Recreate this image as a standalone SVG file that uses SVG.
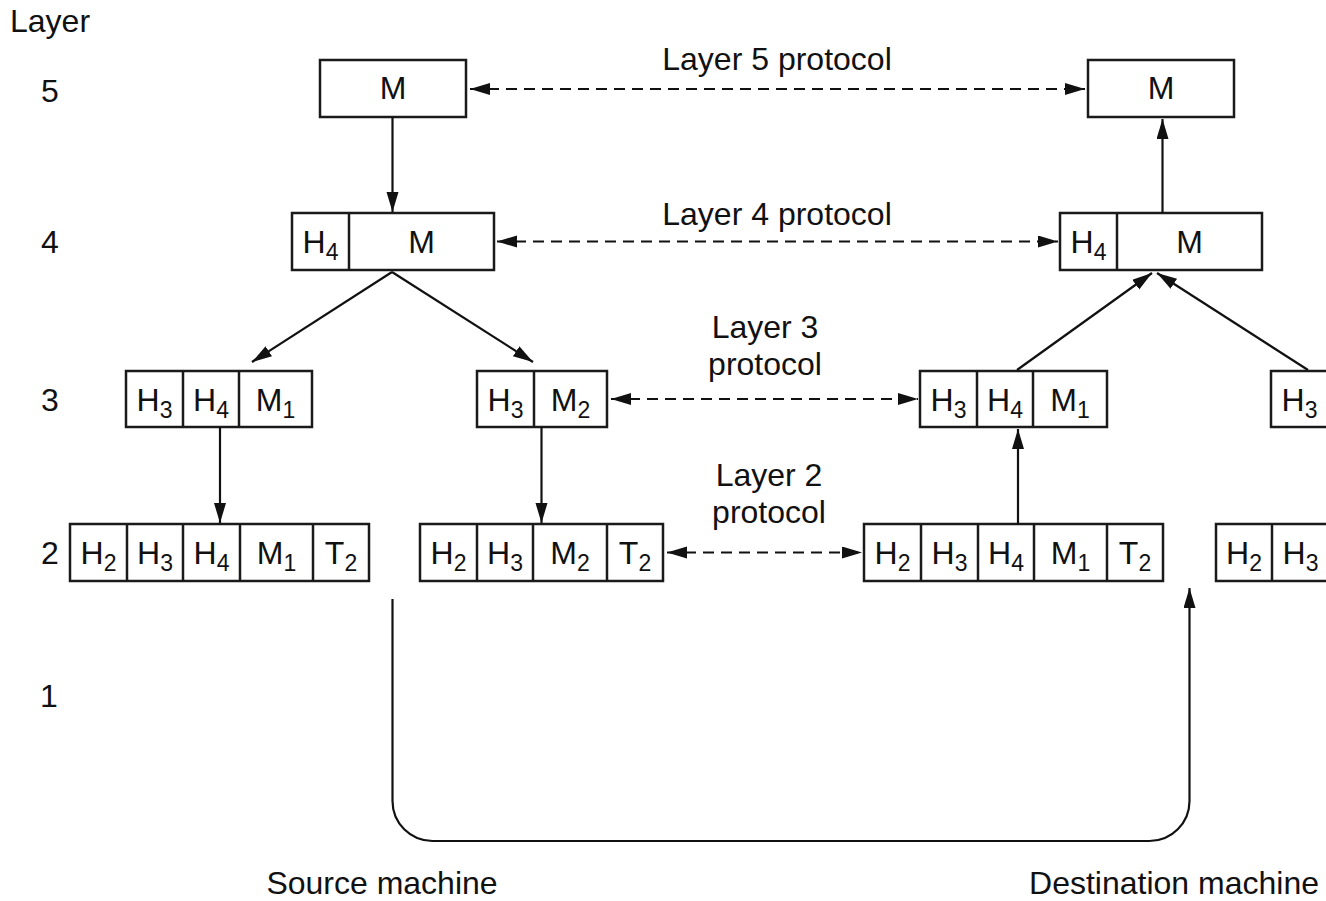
<svg xmlns="http://www.w3.org/2000/svg" width="1326" height="901" viewBox="0 0 1326 901">
  <style>
    text { font-family: "Liberation Sans", Arial, Helvetica, sans-serif; fill: #111; }
    .lbl { font-size: 32px; }
    .cell { font-size: 32px; text-anchor: middle; }
    .sub { font-size: 23px; }
    .mid { text-anchor: middle; }
    .box { fill: #fff; stroke: #1a1a1a; stroke-width: 2.5; }
    .div { stroke: #1a1a1a; stroke-width: 2.5; }
    .wire { fill: none; stroke: #111; stroke-width: 2.2; }
    .dash { fill: none; stroke: #111; stroke-width: 2.2; stroke-dasharray: 11 7; }
  </style>
  <defs>
    <marker id="head" markerUnits="userSpaceOnUse" markerWidth="22" markerHeight="14" refX="20" refY="6" orient="auto-start-reverse">
      <path d="M0,0 L20,6 L0,12 z" fill="#111" stroke="none"/>
    </marker>
  </defs>

  <rect width="1326" height="901" fill="#fff"/>

  <!-- layer numbers -->
  <g id="layer-axis">
    <text class="lbl" x="10" y="32">Layer</text>
    <text class="lbl mid" x="50" y="102">5</text>
    <text class="lbl mid" x="50" y="253">4</text>
    <text class="lbl mid" x="50" y="411">3</text>
    <text class="lbl mid" x="50" y="564">2</text>
    <text class="lbl mid" x="49" y="707">1</text>
  </g>

  <!-- protocol labels -->
  <g id="protocol-labels">
    <text class="lbl mid" x="777" y="70">Layer 5 protocol</text>
    <text class="lbl mid" x="777" y="225">Layer 4 protocol</text>
    <text class="lbl mid" x="765" y="338">Layer 3</text>
    <text class="lbl mid" x="765" y="375">protocol</text>
    <text class="lbl mid" x="769" y="486">Layer 2</text>
    <text class="lbl mid" x="769" y="523">protocol</text>
  </g>

  <!-- source machine stack -->
  <g id="src-l5">
    <rect class="box" x="320" y="60" width="146" height="57"/>
    <text class="cell" x="393" y="99">M</text>
  </g>
  <g id="src-l4">
    <rect class="box" x="292" y="213" width="202" height="57"/>
    <line class="div" x1="349" y1="213" x2="349" y2="270"/>
    <text class="cell" x="320.5" y="253">H<tspan class="sub" dy="7">4</tspan></text>
    <text class="cell" x="421.5" y="253">M</text>
  </g>
  <g id="src-l3a">
    <rect class="box" x="126" y="371" width="186" height="56"/>
    <line class="div" x1="183" y1="371" x2="183" y2="427"/>
    <line class="div" x1="239" y1="371" x2="239" y2="427"/>
    <text class="cell" x="154.5" y="411">H<tspan class="sub" dy="7">3</tspan></text>
    <text class="cell" x="211" y="411">H<tspan class="sub" dy="7">4</tspan></text>
    <text class="cell" x="275.5" y="411">M<tspan class="sub" dy="7">1</tspan></text>
  </g>
  <g id="src-l3b">
    <rect class="box" x="477" y="371" width="130" height="56"/>
    <line class="div" x1="534" y1="371" x2="534" y2="427"/>
    <text class="cell" x="505.5" y="411">H<tspan class="sub" dy="7">3</tspan></text>
    <text class="cell" x="570.5" y="411">M<tspan class="sub" dy="7">2</tspan></text>
  </g>
  <g id="src-l2a">
    <rect class="box" x="70" y="524" width="299" height="57"/>
    <line class="div" x1="127" y1="524" x2="127" y2="581"/>
    <line class="div" x1="183" y1="524" x2="183" y2="581"/>
    <line class="div" x1="240" y1="524" x2="240" y2="581"/>
    <line class="div" x1="313" y1="524" x2="313" y2="581"/>
    <text class="cell" x="98.5" y="564">H<tspan class="sub" dy="7">2</tspan></text>
    <text class="cell" x="155" y="564">H<tspan class="sub" dy="7">3</tspan></text>
    <text class="cell" x="211.5" y="564">H<tspan class="sub" dy="7">4</tspan></text>
    <text class="cell" x="276.5" y="564">M<tspan class="sub" dy="7">1</tspan></text>
    <text class="cell" x="341" y="564">T<tspan class="sub" dy="7">2</tspan></text>
  </g>
  <g id="src-l2b">
    <rect class="box" x="420" y="524" width="243" height="57"/>
    <line class="div" x1="477" y1="524" x2="477" y2="581"/>
    <line class="div" x1="533" y1="524" x2="533" y2="581"/>
    <line class="div" x1="607" y1="524" x2="607" y2="581"/>
    <text class="cell" x="448.5" y="564">H<tspan class="sub" dy="7">2</tspan></text>
    <text class="cell" x="505" y="564">H<tspan class="sub" dy="7">3</tspan></text>
    <text class="cell" x="570" y="564">M<tspan class="sub" dy="7">2</tspan></text>
    <text class="cell" x="635" y="564">T<tspan class="sub" dy="7">2</tspan></text>
  </g>

  <!-- destination machine stack -->
  <g id="dst-l5">
    <rect class="box" x="1088" y="60" width="146" height="57"/>
    <text class="cell" x="1161" y="99">M</text>
  </g>
  <g id="dst-l4">
    <rect class="box" x="1060" y="213" width="202" height="57"/>
    <line class="div" x1="1117" y1="213" x2="1117" y2="270"/>
    <text class="cell" x="1088.5" y="253">H<tspan class="sub" dy="7">4</tspan></text>
    <text class="cell" x="1189.5" y="253">M</text>
  </g>
  <g id="dst-l3a">
    <rect class="box" x="920" y="371" width="187" height="56"/>
    <line class="div" x1="977" y1="371" x2="977" y2="427"/>
    <line class="div" x1="1033" y1="371" x2="1033" y2="427"/>
    <text class="cell" x="948.5" y="411">H<tspan class="sub" dy="7">3</tspan></text>
    <text class="cell" x="1005" y="411">H<tspan class="sub" dy="7">4</tspan></text>
    <text class="cell" x="1070" y="411">M<tspan class="sub" dy="7">1</tspan></text>
  </g>
  <g id="dst-l3b">
    <rect class="box" x="1271" y="371" width="130" height="56"/>
    <line class="div" x1="1328" y1="371" x2="1328" y2="427"/>
    <text class="cell" x="1299.5" y="411">H<tspan class="sub" dy="7">3</tspan></text>
  </g>
  <g id="dst-l2a">
    <rect class="box" x="864" y="524" width="299" height="57"/>
    <line class="div" x1="921" y1="524" x2="921" y2="581"/>
    <line class="div" x1="978" y1="524" x2="978" y2="581"/>
    <line class="div" x1="1034" y1="524" x2="1034" y2="581"/>
    <line class="div" x1="1107" y1="524" x2="1107" y2="581"/>
    <text class="cell" x="892.5" y="564">H<tspan class="sub" dy="7">2</tspan></text>
    <text class="cell" x="949.5" y="564">H<tspan class="sub" dy="7">3</tspan></text>
    <text class="cell" x="1006" y="564">H<tspan class="sub" dy="7">4</tspan></text>
    <text class="cell" x="1070.5" y="564">M<tspan class="sub" dy="7">1</tspan></text>
    <text class="cell" x="1135" y="564">T<tspan class="sub" dy="7">2</tspan></text>
  </g>
  <g id="dst-l2b">
    <rect class="box" x="1216" y="524" width="160" height="57"/>
    <line class="div" x1="1272" y1="524" x2="1272" y2="581"/>
    <line class="div" x1="1329" y1="524" x2="1329" y2="581"/>
    <text class="cell" x="1244" y="564">H<tspan class="sub" dy="7">2</tspan></text>
    <text class="cell" x="1300.5" y="564">H<tspan class="sub" dy="7">3</tspan></text>
  </g>

  <!-- machine captions -->
  <g id="captions">
    <text class="lbl mid" x="382" y="894">Source machine</text>
    <text class="lbl mid" x="1174" y="894">Destination machine</text>
  </g>

  <!-- connectors -->
  <g id="connectors">
    <!-- peer protocols -->
    <line class="dash" x1="470" y1="89" x2="1085" y2="89" marker-start="url(#head)" marker-end="url(#head)"/>
    <line class="dash" x1="497" y1="241.5" x2="1058" y2="241.5" marker-start="url(#head)" marker-end="url(#head)"/>
    <line class="dash" x1="611" y1="399" x2="918" y2="399" marker-start="url(#head)" marker-end="url(#head)"/>
    <line class="dash" x1="667" y1="552.5" x2="862" y2="552.5" marker-start="url(#head)" marker-end="url(#head)"/>

    <!-- downward on source side -->
    <line class="wire" x1="392.5" y1="117" x2="392.5" y2="212" marker-end="url(#head)"/>
    <line class="wire" x1="392" y1="272" x2="252" y2="362" marker-end="url(#head)"/>
    <line class="wire" x1="392" y1="272" x2="533" y2="362" marker-end="url(#head)"/>
    <line class="wire" x1="220" y1="427" x2="220" y2="523" marker-end="url(#head)"/>
    <line class="wire" x1="541.5" y1="427" x2="541.5" y2="523" marker-end="url(#head)"/>

    <!-- upward on destination side -->
    <line class="wire" x1="1018" y1="524" x2="1018" y2="429" marker-end="url(#head)"/>
    <line class="wire" x1="1017" y1="370" x2="1152" y2="273" marker-end="url(#head)"/>
    <line class="wire" x1="1308" y1="370" x2="1157" y2="273" marker-end="url(#head)"/>
    <line class="wire" x1="1162.5" y1="213" x2="1162.5" y2="119" marker-end="url(#head)"/>

    <!-- physical medium -->
    <path class="wire" d="M392.5,599 V801 A40,40 0 0 0 432.5,841 H1149.5 A40,40 0 0 0 1189.5,801 V588" marker-end="url(#head)"/>
  </g>
</svg>
